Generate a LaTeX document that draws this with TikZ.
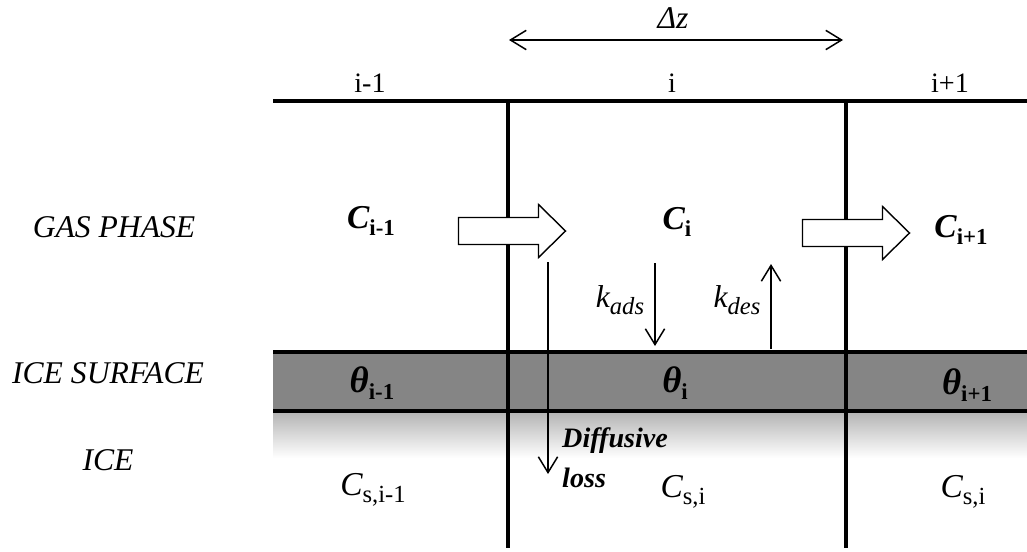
\documentclass[tikz,border=0pt]{standalone}
\usepackage{fontspec}
\setmainfont{Liberation Serif}
\usetikzlibrary{arrows.meta,positioning}

% concentration and coverage labels
\newcommand{\Cgas}[1]{{\fontsize{19}{19}\selectfont\bfseries\itshape C}\raisebox{-0.8ex}{\fontsize{13}{13}\selectfont\bfseries #1}}
\newcommand{\Tsurf}[1]{{\fontsize{21}{21}\selectfont\bfseries\itshape θ}\raisebox{-0.8ex}{\fontsize{13}{13}\selectfont\bfseries #1}}
\newcommand{\Cice}[1]{{\fontsize{19}{19}\selectfont\itshape C}\raisebox{-0.8ex}{\fontsize{14}{14}\selectfont #1}}
\newcommand{\rate}[1]{{\fontsize{18}{18}\selectfont\itshape k}\raisebox{-0.8ex}{\fontsize{14}{14}\selectfont\itshape #1}}

\begin{document}
\begin{tikzpicture}[
    x=0.02cm, y=-0.02cm,
    grid/.style={line width=2.2pt},
    layer/.style={line width=2.6pt},
    barb/.style={Straight Barb[length=9pt,width=11pt]},
    thinarrow/.style={-{Straight Barb[length=9pt,width=11pt]}, line width=0.85pt},
    flux/.pic={
        \draw[fill=white, line width=0.8pt, line join=miter]
            (-53.5,-13.5) -- (26.5,-13.5) -- (26.5,-26.5) -- (53.5,0)
            -- (26.5,26.5) -- (26.5,13.5) -- (-53.5,13.5) -- cycle;
    },
    phase/.style={font=\fontsize{18}{20}\selectfont\itshape},
    cell/.style={font=\fontsize{16}{18}\selectfont}
]
\useasboundingbox (0,0) rectangle (1027,551);

% ice surface band and ice below
\fill[black!48] (273,352) rectangle (1027,411);
\shade[top color=black!30, bottom color=white] (273,411) rectangle (1027,458);

% grid
\coordinate (topL) at (273,101);
\coordinate (topR) at (1027,101);
\coordinate (surfL) at (273,352);
\coordinate (surfR) at (1027,352);
\coordinate (iceL) at (273,411);
\coordinate (iceR) at (1027,411);
\coordinate (wallAtop) at (508,101);
\coordinate (wallAbot) at (508,548);
\coordinate (wallBtop) at (846,101);
\coordinate (wallBbot) at (846,548);
\draw[grid] (topL) -- (topR);
\draw[layer] (surfL) -- (surfR);
\draw[layer] (iceL) -- (iceR);
\draw[grid] (wallAtop) -- (wallAbot);
\draw[grid] (wallBtop) -- (wallBbot);

% cell width
\coordinate (dzL) at (509,40);
\coordinate (dzR) at (843,40);
\draw[line width=0.85pt, {Straight Barb[length=9pt,width=11pt]}-{Straight Barb[length=9pt,width=11pt]}] (dzL) -- (dzR);
\node[phase] (dz) at (673,18) {Δz};

\node[cell] (cellA) at (370,83) {i-1};
\node[cell] (cellB) at (672,83) {i};
\node[cell] (cellC) at (950,83) {i+1};

% phases
\node[phase] (gas) at (114,227) {GAS PHASE};
\node[phase] (surf) at (108,373) {ICE SURFACE};
\node[phase] (ice) at (108,460) {ICE};

% advection
\pic (fluxA) at (512,231) {flux};
\pic (fluxB) at (856,233) {flux};

\node (Cprev) at (371,221) {\Cgas{i-1}};
\node (Cmid) at (677,222) {\Cgas{i}};
\node (Cnext) at (961,230) {\Cgas{i+1}};

% adsorption, desorption and diffusion
\coordinate (adsTop) at (655,263);
\coordinate (adsTip) at (655,346);
\coordinate (desBot) at (771,349);
\coordinate (desTip) at (771,264);
\coordinate (difTop) at (548,262);
\coordinate (difTip) at (548,474);
\draw[thinarrow] (adsTop) -- (adsTip);
\draw[thinarrow] (desBot) -- (desTip);
\draw[thinarrow] (difTop) -- (difTip);
\node (kads) at (620,300) {\rate{ads}};
\node (kdes) at (737,300) {\rate{des}};
\node[anchor=west, align=left, font=\fontsize{16}{23}\selectfont\bfseries\itshape] (loss) at (556,458) {Diffusive\\loss};

% surface coverage
\node (Tprev) at (372,383) {\Tsurf{i-1}};
\node (Tmid) at (675,383) {\Tsurf{i}};
\node (Tnext) at (967,385) {\Tsurf{i+1}};

% ice concentrations
\node (Sprev) at (373,490) {\Cice{s,i-1}};
\node (Smid) at (683,492) {\Cice{s,i}};
\node (Snext) at (963,492) {\Cice{s,i}};
\end{tikzpicture}
\end{document}
